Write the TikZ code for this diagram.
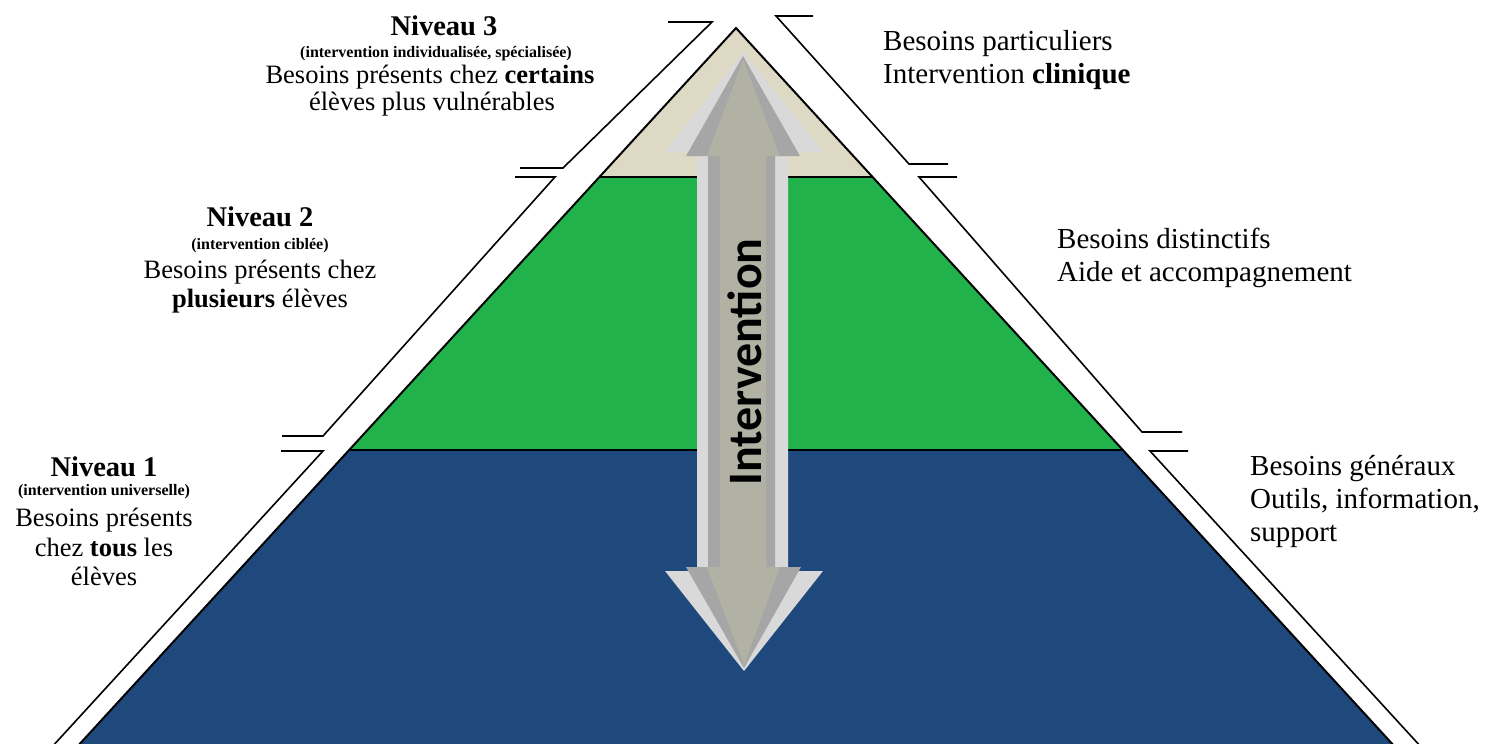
\documentclass[tikz,border=0pt]{standalone}
\usepackage{fontspec}
\setmainfont{Liberation Serif}
\newfontfamily\arrowfont{Carlito}
\usetikzlibrary{positioning}
\definecolor{topbeige}{RGB}{221,217,196}
\definecolor{midgreen}{RGB}{33,178,75}
\definecolor{baseblue}{RGB}{31,73,125}
\definecolor{arrlight}{RGB}{217,217,217}
\definecolor{arrdark}{RGB}{166,166,166}
\definecolor{arrcore}{RGB}{178,178,164}
\tikzset{%
  edge/.style={line width=2pt},
  rail/.style={line width=1.6pt, line join=miter},
  lvl/.style={anchor=base, inner sep=0pt, font=\fontsize{28.5}{30}\selectfont\bfseries},
  paren/.style={anchor=base, inner sep=0pt, font=\fontsize{16}{18}\selectfont\bfseries},
  need/.style={anchor=base, inner sep=0pt, font=\fontsize{26.5}{30}\selectfont},
  side/.style={anchor=base west, inner sep=0pt, font=\fontsize{29}{33}\selectfont}
}

\begin{document}
\begin{tikzpicture}[x=1pt,y=-1pt]
  \useasboundingbox (0,0) rectangle (1491,744);

  % pyramid
  \coordinate (apex) at (736,28);
  \coordinate (l3) at (599.4,177);
  \coordinate (r3) at (872.6,177);
  \coordinate (l2) at (349.2,450);
  \coordinate (r2) at (1122.8,450);
  \coordinate (l1) at (65,760);
  \coordinate (r1) at (1407,760);

  \fill[baseblue] (l2) -- (r2) -- (r1) -- (l1) -- cycle;
  \fill[midgreen] (l3) -- (r3) -- (r2) -- (l2) -- cycle;
  \fill[topbeige] (apex) -- (r3) -- (l3) -- cycle;
  \draw[edge] (l1) -- (apex) -- (r1);
  \draw[edge] (l3) -- (r3);
  \draw[edge] (l2) -- (r2);

  % broken side rails
  \draw[rail] (668,22) -- (712,22) -- (563,168) -- (520,168);
  \draw[rail] (515,177) -- (555,177) -- (323,436) -- (282,436);
  \draw[rail] (281,451) -- (323,451) -- (40,760);
  \draw[rail] (813,16) -- (776,16) -- (909,164) -- (948,164);
  \draw[rail] (957,177) -- (919,177) -- (1142,432) -- (1182,432);
  \draw[rail] (1188,451) -- (1150,451) -- (1433,760);

  % double arrow
  \fill[arrlight] (743,52) -- (823,152) -- (788,152) -- (788,571) -- (823,571)
    -- (744,671) -- (665,571) -- (697,571) -- (697,152) -- (665,152) -- cycle;
  \fill[arrdark] (743,56) -- (800,156) -- (775,156) -- (775,567) -- (801,567)
    -- (744,668) -- (686,567) -- (708,567) -- (708,156) -- (686,156) -- cycle;
  \fill[arrcore] (743,60) -- (780,156) -- (766,156) -- (766,567) -- (780,567)
    -- (744,665) -- (707,567) -- (720,567) -- (720,156) -- (707,156) -- cycle;
  \node[rotate=90, inner sep=0pt, font=\arrowfont\bfseries\fontsize{48}{50}\selectfont] (arrlabel) at (745,362) {Intervention};

  % level 3
  \node[lvl] (n3) at (444,35) {Niveau 3};
  \node[paren] (n3p) at (436,57) {(intervention individualisée, spécialisée)};
  \node[need] (n3a) at (430,83) {Besoins présents chez \textbf{certains}};
  \node[need] (n3b) at (432,110) {élèves plus vulnérables};

  % level 2
  \node[lvl] (n2) at (260,226) {Niveau 2};
  \node[paren] (n2p) at (260,249) {(intervention ciblée)};
  \node[need] (n2a) at (260,278) {Besoins présents chez};
  \node[need] (n2b) at (260,307) {\textbf{plusieurs} élèves};

  % level 1
  \node[lvl] (n1) at (104,476) {Niveau 1};
  \node[paren] (n1p) at (104,495) {(intervention universelle)};
  \node[need] (n1a) at (104,526) {Besoins présents};
  \node[need] (n1b) at (104,556) {chez \textbf{tous} les};
  \node[need] (n1c) at (104,585) {élèves};

  % right side
  \node[side] (s3a) at (883,50) {Besoins particuliers};
  \node[side] (s3b) at (883,83) {Intervention \textbf{clinique}};
  \node[side] (s2a) at (1057,248) {Besoins distinctifs};
  \node[side] (s2b) at (1057,281) {Aide et accompagnement};
  \node[side] (s1a) at (1250,475) {Besoins généraux};
  \node[side] (s1b) at (1250,508) {Outils, information,};
  \node[side] (s1c) at (1250,541) {support};
\end{tikzpicture}
\end{document}
